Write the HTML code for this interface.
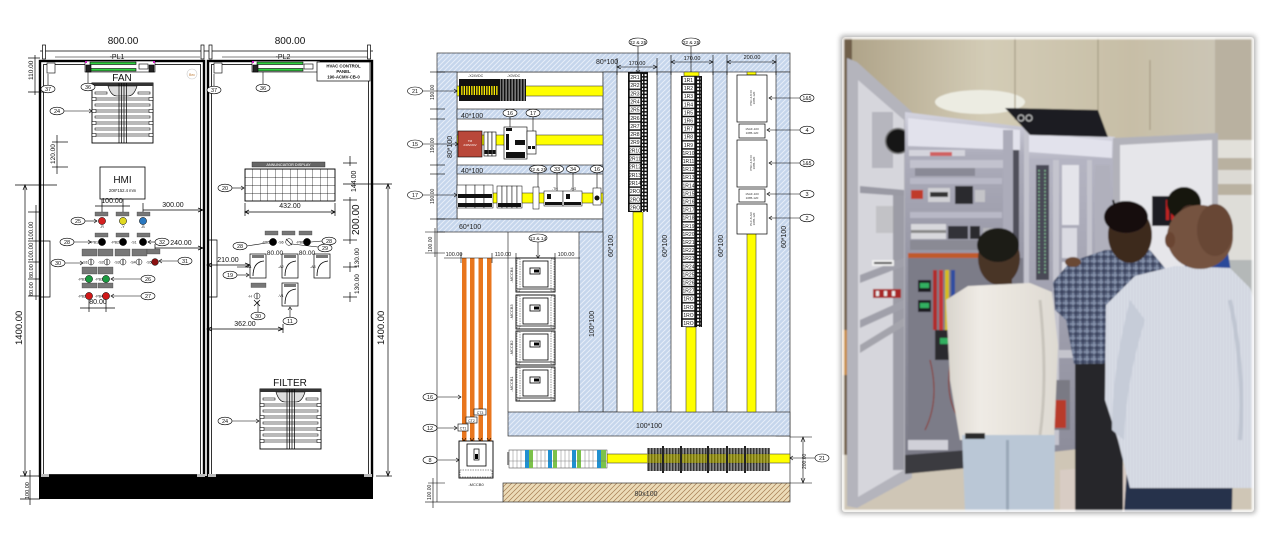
<!DOCTYPE html>
<html><head><meta charset="utf-8">
<style>
html,body{margin:0;padding:0;background:#fff;width:1285px;height:549px;overflow:hidden}
svg{display:block;font-family:"Liberation Sans",Arial,sans-serif}
</style></head><body>
<svg width="1285" height="549" viewBox="0 0 1285 549" xmlns="http://www.w3.org/2000/svg">
<defs>
<pattern id="tr" patternUnits="userSpaceOnUse" width="5" height="5"><rect width="5" height="5" fill="#c6d6ec"/><path d="M-1 1 L1 -1 M0 5 L5 0 M4 6 L6 4" stroke="#e6edf8" stroke-width="1"/></pattern>
<pattern id="pl" patternUnits="userSpaceOnUse" width="5" height="5"><rect width="5" height="5" fill="#ecdcb8"/><path d="M-1 1 L1 -1 M0 5 L5 0 M4 6 L6 4" stroke="#a67c52" stroke-width="0.7"/></pattern>
<pattern id="ann" patternUnits="userSpaceOnUse" x="245" y="169" width="7.5" height="8"><path d="M0 0 H7.5 M0 0 V8" stroke="#000" stroke-width="0.7" fill="none"/></pattern>
<pattern id="cell1" patternUnits="userSpaceOnUse" x="629" y="73" width="12" height="8.15"><rect x="0.4" y="0.4" width="11.2" height="7.35" fill="#fff" stroke="#000" stroke-width="0.6"/></pattern>
<pattern id="cell2" patternUnits="userSpaceOnUse" x="682" y="76" width="13" height="8.1"><rect x="0.4" y="0.4" width="12.2" height="7.3" fill="#fff" stroke="#000" stroke-width="0.6"/></pattern>
<pattern id="dots" patternUnits="userSpaceOnUse" width="3.5" height="3.5"><rect width="3.5" height="3.5" fill="#111"/><rect x="0.6" y="0.6" width="2" height="2" fill="#fff"/></pattern>
<pattern id="vst" patternUnits="userSpaceOnUse" width="3" height="3"><rect width="3" height="3" fill="#777"/><rect width="1.4" height="3" fill="#111"/></pattern>
<pattern id="yst" patternUnits="userSpaceOnUse" width="2.5" height="3"><rect width="2.5" height="3" fill="#ffef00"/><rect width="1.2" height="3" fill="#111"/></pattern>
<pattern id="chk" patternUnits="userSpaceOnUse" width="7" height="7"><rect width="7" height="7" fill="#56627e"/><path d="M0 2 H7 M2 0 V7" stroke="#8b97b0" stroke-width="1.3"/><path d="M0 5 H7 M5 0 V7" stroke="#2e3650" stroke-width="1"/></pattern>
<pattern id="stp" patternUnits="userSpaceOnUse" width="3" height="3"><rect width="3" height="3" fill="#d9dde6"/><path d="M1 0 V3" stroke="#c2c8d6" stroke-width="0.6"/></pattern>
<filter id="bl" x="-5%" y="-5%" width="110%" height="110%"><feGaussianBlur stdDeviation="0.7"/></filter>
<filter id="sh" x="-10%" y="-10%" width="120%" height="120%"><feGaussianBlur stdDeviation="2.5"/></filter>
<g id="grill">
<rect x="0" y="0" width="61" height="60" fill="#fff" stroke="#000" stroke-width="0.9"/>
<rect x="0" y="0" width="61" height="3" fill="#333"/>
<path d="M16 3 Q19 13 25 13 H36 Q42 13 45 3 Z" fill="#ddd" stroke="#000" stroke-width="0.6"/>
<g fill="#fff" stroke="#000" stroke-width="0.55">
<rect x="3" y="15" width="55" height="2"/><rect x="3" y="21" width="55" height="2"/><rect x="3" y="27" width="55" height="2"/><rect x="3" y="33" width="55" height="2"/><rect x="3" y="39" width="55" height="2"/><rect x="3" y="45" width="55" height="2"/><rect x="3" y="51" width="55" height="2"/><rect x="3" y="9" width="12" height="2"/><rect x="46" y="9" width="12" height="2"/>
<rect x="0" y="14.5" width="4" height="3"/><rect x="57" y="14.5" width="4" height="3"/><rect x="0" y="26.5" width="4" height="3"/><rect x="57" y="26.5" width="4" height="3"/><rect x="0" y="38.5" width="4" height="3"/><rect x="57" y="38.5" width="4" height="3"/><rect x="0" y="50.5" width="4" height="3"/><rect x="57" y="50.5" width="4" height="3"/>
</g>
<path d="M27 0 V60 M29.5 0 V60 M32 0 V60 M34.5 0 V60" stroke="#000" stroke-width="0.7"/>
</g>
</defs>

<!-- ================= LEFT DRAWING ================= -->
<g stroke="#000" fill="none" stroke-width="0.8">
<line x1="40" y1="51" x2="373" y2="51"/>
<line x1="55" y1="57" x2="200" y2="57" stroke-width="0.5"/>
<line x1="222" y1="57" x2="370" y2="57" stroke-width="0.5"/>
<g stroke-width="0.7" fill="#fff">
<rect x="42.5" y="45" width="3" height="14"/><rect x="201" y="45" width="3" height="14"/>
<rect x="209" y="45" width="3" height="14"/><rect x="367.5" y="45" width="3" height="14"/>
</g>
<rect x="40" y="61" width="164" height="415" stroke-width="2.4"/>
<rect x="43.5" y="64.5" width="157" height="410" stroke-width="0.8"/>
<rect x="208" y="61" width="164" height="415" stroke-width="2.4"/>
<rect x="211.5" y="64.5" width="157" height="410" stroke-width="0.8"/>
</g>
<rect x="39" y="476" width="334" height="23" fill="#000"/>
<rect x="41" y="474" width="8" height="3" fill="#bbb"/><rect x="197" y="474" width="8" height="3" fill="#bbb"/>
<rect x="208" y="474" width="8" height="3" fill="#bbb"/><rect x="364" y="474" width="8" height="3" fill="#bbb"/>

<g font-size="10" text-anchor="middle" fill="#111">
<text x="123" y="44">800.00</text><text x="290" y="44">800.00</text>
</g>
<g font-size="7" text-anchor="middle" fill="#111">
<text x="117" y="59">-PL1</text><text x="283" y="59">-PL2</text>
</g>

<g stroke="#000" stroke-width="0.6">
<rect x="85" y="61" width="70" height="11" fill="#fff"/>
<rect x="90" y="62" width="46" height="2.5" fill="#30d040"/><rect x="90" y="68.5" width="46" height="2.5" fill="#30d040"/>
<rect x="86" y="65" width="5" height="7" fill="#222"/><rect x="149" y="65" width="5" height="7" fill="#222"/>
<rect x="139" y="64" width="9" height="5" fill="#fff"/>
<rect x="252" y="61" width="68" height="11" fill="#fff"/>
<rect x="257" y="62" width="46" height="2.5" fill="#30d040"/><rect x="257" y="68.5" width="46" height="2.5" fill="#30d040"/>
<rect x="253" y="65" width="5" height="7" fill="#222"/>
<rect x="304" y="64" width="9" height="5" fill="#fff"/>
<rect x="47" y="63" width="8" height="10" fill="#fff"/><rect x="214" y="63" width="8" height="10" fill="#fff"/>
</g>
<rect x="85" y="61" width="2" height="2" fill="#d020c0"/><rect x="153" y="61" width="2" height="2" fill="#d020c0"/>
<rect x="252" y="61" width="2" height="2" fill="#d020c0"/>
<circle cx="192" cy="74" r="5" fill="#fff" stroke="#ccc" stroke-width="0.6"/>
<text x="192" y="76" font-size="3.5" text-anchor="middle" fill="#c08040">Bec</text>
<rect x="317" y="62" width="53" height="19" fill="#fff" stroke="#000" stroke-width="0.7"/>
<g font-size="4.3" font-weight="bold" text-anchor="middle" fill="#111">
<text x="343.5" y="67.5">HVAC CONTROL</text><text x="343.5" y="73">PANEL</text><text x="343.5" y="78.5">190-ACMV-CB-0</text>
</g>

<text x="122" y="81" font-size="10" text-anchor="middle" fill="#111">FAN</text>
<use href="#grill" x="92" y="83"/>
<text x="290" y="386" font-size="10" text-anchor="middle" fill="#111">FILTER</text>
<use href="#grill" x="260" y="389"/>

<g stroke="#000" stroke-width="0.7" fill="none">
<line x1="28" y1="58" x2="40" y2="58"/><line x1="28" y1="92" x2="46" y2="92"/><line x1="35" y1="55" x2="35" y2="95"/>
<line x1="52" y1="142" x2="68" y2="142"/><line x1="52" y1="167" x2="68" y2="167"/><line x1="57" y1="135" x2="57" y2="174"/>
<line x1="15" y1="185" x2="57" y2="185"/><line x1="25" y1="185" x2="25" y2="476"/>
<line x1="20" y1="476" x2="40" y2="476"/><line x1="20" y1="499" x2="40" y2="499"/><line x1="30" y1="470" x2="30" y2="505"/>
<line x1="36" y1="205" x2="36" y2="300"/>
<line x1="28" y1="212" x2="40" y2="212"/><line x1="28" y1="241" x2="40" y2="241"/><line x1="28" y1="262" x2="40" y2="262"/><line x1="28" y1="279" x2="40" y2="279"/><line x1="28" y1="296" x2="40" y2="296"/>
<path d="M40 241 H50 V297 H40"/>
<path d="M23 190 L25 185 L27 190 M23 471 L25 476 L27 471"/>
</g>
<g font-size="6.5" fill="#111">
<text transform="translate(33,80) rotate(-90)">110.00</text>
<text transform="translate(55,164) rotate(-90)">120.00</text>
<text transform="translate(33,240) rotate(-90)" font-size="6">100.00</text>
<text transform="translate(33,261) rotate(-90)" font-size="6">100.00</text>
<text transform="translate(33,278) rotate(-90)" font-size="5.5">80.00</text>
<text transform="translate(33,296) rotate(-90)" font-size="5.5">80.00</text>
<text transform="translate(29,499) rotate(-90)" font-size="5.5">100.00</text>
</g>
<text transform="translate(22,345) rotate(-90)" font-size="9.5" fill="#111">1400.00</text>

<rect x="100" y="167" width="45" height="32" fill="#fff" stroke="#000" stroke-width="0.8"/>
<text x="122.5" y="183" font-size="10" text-anchor="middle" fill="#111">HMI</text>
<text x="122.5" y="192" font-size="4.2" text-anchor="middle" fill="#111">208*152.4 mm</text>
<g stroke="#000" stroke-width="0.7" fill="none">
<line x1="102" y1="199" x2="102" y2="212"/><line x1="123" y1="199" x2="123" y2="212"/><line x1="95" y1="206" x2="130" y2="206"/>
<line x1="143" y1="203" x2="143" y2="213"/><line x1="143" y1="210" x2="203" y2="210"/>
<line x1="155" y1="244" x2="155" y2="252"/><line x1="155" y1="248" x2="203" y2="248"/>
<line x1="89" y1="300" x2="89" y2="312"/><line x1="106" y1="300" x2="106" y2="312"/><line x1="80" y1="308" x2="115" y2="308"/>
</g>
<g font-size="7" fill="#111" text-anchor="middle">
<text x="112" y="203">100.00</text><text x="173" y="207">300.00</text><text x="181" y="245">240.00</text><text x="98" y="304">80.00</text>
</g>
<g fill="#777" stroke="#333" stroke-width="0.3">
<rect x="95" y="212" width="13" height="4"/><rect x="116" y="212" width="13" height="4"/><rect x="137" y="212" width="13" height="4"/>
<rect x="95" y="233" width="13" height="4"/><rect x="116" y="233" width="13" height="4"/><rect x="137" y="233" width="13" height="4"/>
<rect x="82" y="249" width="15" height="7"/><rect x="98" y="249" width="15" height="7"/><rect x="115" y="249" width="15" height="7"/><rect x="132" y="249" width="15" height="7"/><rect x="147" y="249" width="13" height="5"/>
<rect x="82" y="267" width="15" height="7"/><rect x="98" y="267" width="15" height="7"/>
<rect x="82" y="283" width="15" height="5"/><rect x="98" y="283" width="15" height="5"/>
</g>
<g stroke="#000" stroke-width="0.5">
<circle cx="102" cy="221" r="3.6" fill="#d42020"/><circle cx="123" cy="221" r="3.6" fill="#e0d820"/><circle cx="143" cy="221" r="3.6" fill="#2a78c0"/>
<circle cx="102" cy="242" r="3.6" fill="#000"/><circle cx="123" cy="242" r="3.6" fill="#000"/><circle cx="143" cy="242" r="3.6" fill="#000"/>
<circle cx="91" cy="262" r="3" fill="#fff"/><circle cx="107" cy="262" r="3" fill="#fff"/><circle cx="123" cy="262" r="3" fill="#fff"/><circle cx="139" cy="262" r="3" fill="#fff"/><circle cx="155" cy="262" r="3.4" fill="#8a1010"/>
<circle cx="89" cy="279" r="3.6" fill="#1a9a40"/><circle cx="106" cy="279" r="3.6" fill="#1a9a40"/>
<circle cx="89" cy="296" r="3.6" fill="#d01818"/><circle cx="106" cy="296" r="3.6" fill="#d01818"/>
</g>
<path d="M91 259.5 V264.5 M107 259.5 V264.5 M123 259.5 V264.5 M139 259.5 V264.5" stroke="#000" stroke-width="0.8"/>
<g font-size="3.6" fill="#111">
<text x="100" y="228">-R</text><text x="121" y="228">-Y</text><text x="141" y="228">-B</text>
<text x="90" y="243.5">-PB1</text><text x="111" y="243.5">-PB2</text><text x="131" y="243.5">-S1</text>
<text x="82" y="263.5">-S1</text><text x="98" y="263.5">-S2</text><text x="114" y="263.5">-S3</text><text x="130" y="263.5">-S4</text><text x="146" y="263.5">-S5</text>
<text x="78" y="280.5">-PB1</text><text x="95" y="280.5">-PB3</text>
<text x="78" y="297.5">-PB2</text><text x="95" y="297.5">-PB4</text>
</g>

<rect x="252" y="162" width="73" height="5" fill="#666" stroke="#222" stroke-width="0.4"/>
<text x="288.5" y="166" font-size="3.8" text-anchor="middle" fill="#fff">ANNUNCIATOR DISPLAY</text>
<rect x="245" y="169" width="90" height="32" fill="url(#ann)" stroke="#000" stroke-width="0.9"/>
<g stroke="#000" stroke-width="0.7" fill="none">
<line x1="245" y1="203" x2="245" y2="216"/><line x1="335" y1="203" x2="335" y2="216"/><line x1="245" y1="212" x2="335" y2="212"/>
<path d="M249 210 L245 212 L249 214 M331 210 L335 212 L331 214"/>
<line x1="343" y1="163" x2="357" y2="163"/><line x1="343" y1="200" x2="357" y2="200"/><line x1="343" y1="240" x2="357" y2="240"/><line x1="343" y1="267" x2="357" y2="267"/><line x1="343" y1="297" x2="357" y2="297"/>
<line x1="350" y1="156" x2="350" y2="166"/><line x1="350" y1="197" x2="350" y2="244"/><line x1="350" y1="262" x2="350" y2="272"/><line x1="350" y1="292" x2="350" y2="302"/>
<line x1="343" y1="184" x2="392" y2="184"/><line x1="388" y1="184" x2="388" y2="476"/><line x1="376" y1="476" x2="392" y2="476"/>
<path d="M386 189 L388 184 L390 189 M386 471 L388 476 L390 471"/>
<path d="M207 240 H217 V297 H207"/>
<line x1="207" y1="265" x2="250" y2="265"/><line x1="207" y1="329" x2="283" y2="329"/><line x1="283" y1="324" x2="283" y2="333"/>
<path d="M212 263 L207 265 L212 267 M245 263 L250 265 L245 267 M212 327 L207 329 L212 331 M278 327 L283 329 L278 331 M198 208 L203 210 L198 212 M198 246 L203 248 L198 250"/>
</g>
<g font-size="7" fill="#111" text-anchor="middle">
<text x="290" y="208">432.00</text><text x="228" y="262">210.00</text><text x="245" y="326">362.00</text>
<text x="275" y="255" font-size="6.5">80.00</text><text x="307" y="255" font-size="6.5">80.00</text>
</g>
<g fill="#111">
<text transform="translate(356,192) rotate(-90)" font-size="7">144.00</text>
<text transform="translate(359,235) rotate(-90)" font-size="10">200.00</text>
<text transform="translate(359,268) rotate(-90)" font-size="6.5">130.00</text>
<text transform="translate(359,294) rotate(-90)" font-size="6.5">130.00</text>
<text transform="translate(384,345) rotate(-90)" font-size="9.5">1400.00</text>
</g>
<g fill="#777" stroke="#333" stroke-width="0.3">
<rect x="265" y="231" width="13" height="4"/><rect x="282" y="231" width="13" height="4"/><rect x="299" y="231" width="13" height="4"/>
<rect x="251" y="283" width="15" height="4.5"/>
</g>
<g stroke="#000" stroke-width="0.5">
<circle cx="273" cy="242" r="3.6" fill="#000"/><circle cx="289" cy="242" r="3.3" fill="#fff"/><circle cx="307" cy="242" r="3.6" fill="#000"/>
<circle cx="257" cy="296" r="3" fill="#fff"/>
</g>
<path d="M286 239 L292 245 M257 293.5 V298.5 M254 300 L260 306 M260 300 L254 306" stroke="#000" stroke-width="0.7"/>
<g stroke="#000" stroke-width="0.7" fill="#fff">
<rect x="250" y="254" width="16" height="24"/><rect x="282" y="254" width="16" height="24"/><rect x="314" y="254" width="16" height="24"/><rect x="282" y="283" width="16" height="23"/>
</g>
<g fill="#777"><rect x="252" y="255" width="12" height="3"/><rect x="284" y="255" width="12" height="3"/><rect x="316" y="255" width="12" height="3"/><rect x="284" y="284" width="12" height="3"/></g>
<path d="M253 276 Q253 262 264 261 M285 276 Q285 262 296 261 M317 276 Q317 262 328 261 M285 304 Q285 290 296 289" stroke="#000" stroke-width="0.8" fill="none"/>
<g font-size="3.6" fill="#111">
<text x="262" y="243.5">-PB5</text><text x="278" y="243.5">-S6</text><text x="296" y="243.5">-PB6</text>
<text x="246" y="268">-A1</text><text x="278" y="268">-A2</text><text x="310" y="268">-A3</text><text x="278" y="297">-V1</text><text x="248" y="297.5">-H</text>
</g>

<g stroke="#000" stroke-width="0.6" fill="none">
<line x1="48" y1="74" x2="48" y2="85"/><line x1="88" y1="72" x2="88" y2="84"/>
<line x1="214" y1="74" x2="214" y2="86"/><line x1="263" y1="72" x2="263" y2="84"/>
<line x1="64" y1="111" x2="92" y2="111"/><path d="M89 109 L92 111 L89 113"/>
<line x1="85" y1="221" x2="97" y2="221"/><path d="M94 219 L97 221 L94 223"/>
<line x1="74" y1="242" x2="91" y2="242"/><path d="M88 240 L91 242 L88 244"/>
<line x1="155" y1="242" x2="148" y2="242"/><path d="M151 240 L148 242 L151 244"/>
<line x1="65" y1="263" x2="83" y2="263"/><path d="M80 261 L83 263 L80 265"/>
<line x1="178" y1="261" x2="159" y2="261"/><path d="M162 259 L159 261 L162 263"/>
<line x1="141" y1="279" x2="111" y2="279"/><path d="M114 277 L111 279 L114 281"/>
<line x1="141" y1="296" x2="111" y2="296"/><path d="M114 294 L111 296 L114 298"/>
<line x1="232" y1="188" x2="244" y2="188"/><path d="M241 186 L244 188 L241 190"/>
<line x1="247" y1="246" x2="266" y2="243"/>
<line x1="322" y1="241" x2="311" y2="242"/><line x1="318" y1="247" x2="292" y2="244"/>
<line x1="237" y1="275" x2="249" y2="275"/><path d="M246 273 L249 275 L246 277"/>
<line x1="237" y1="267" x2="249" y2="267"/>
<line x1="258" y1="312" x2="258" y2="301"/>
<line x1="290" y1="317" x2="290" y2="307"/><path d="M288 310 L290 307 L292 310"/>
<line x1="232" y1="421" x2="259" y2="421"/><path d="M256 419 L259 421 L256 423"/>
</g>
<g fill="#fff" stroke="#000" stroke-width="0.6">
<ellipse cx="48" cy="89" rx="7" ry="3.8"/><ellipse cx="88" cy="87" rx="7" ry="3.8"/>
<ellipse cx="214" cy="90" rx="7" ry="3.8"/><ellipse cx="263" cy="88" rx="7" ry="3.8"/>
<ellipse cx="57" cy="111" rx="7" ry="3.8"/><ellipse cx="78" cy="221" rx="7" ry="3.8"/>
<ellipse cx="67" cy="242" rx="7" ry="3.8"/><ellipse cx="162" cy="242" rx="7" ry="3.8"/>
<ellipse cx="58" cy="263" rx="7" ry="3.8"/><ellipse cx="185" cy="261" rx="7" ry="3.8"/>
<ellipse cx="148" cy="279" rx="7" ry="3.8"/><ellipse cx="148" cy="296" rx="7" ry="3.8"/>
<ellipse cx="225" cy="188" rx="7" ry="3.8"/><ellipse cx="240" cy="246" rx="7" ry="3.8"/>
<ellipse cx="329" cy="241" rx="7" ry="3.8"/><ellipse cx="325" cy="248" rx="7" ry="3.8"/>
<ellipse cx="230" cy="275" rx="7" ry="3.8"/><ellipse cx="258" cy="316" rx="7" ry="3.8"/>
<ellipse cx="290" cy="321" rx="7" ry="3.8"/><ellipse cx="225" cy="421" rx="7" ry="3.8"/>
</g>
<g font-size="5.5" text-anchor="middle" fill="#111">
<text x="48" y="91">37</text><text x="88" y="89">36</text><text x="214" y="92">37</text><text x="263" y="90">36</text>
<text x="57" y="113">24</text><text x="78" y="223">25</text><text x="67" y="244">28</text><text x="162" y="244">32</text>
<text x="58" y="265">30</text><text x="185" y="263">31</text><text x="148" y="281">26</text><text x="148" y="298">27</text>
<text x="225" y="190">20</text><text x="240" y="248">28</text><text x="329" y="243">28</text><text x="325" y="250">29</text>
<text x="230" y="277">19</text><text x="258" y="318">30</text><text x="290" y="323">11</text><text x="225" y="423">24</text>
</g>

<!-- ================= MIDDLE DRAWING ================= -->
<rect x="457" y="72" width="146" height="147" fill="#fff" stroke="#333" stroke-width="0.7"/>
<g stroke="#333" stroke-width="0.7" fill="none">
<line x1="437" y1="232" x2="437" y2="502"/><line x1="437" y1="502" x2="503" y2="502"/>
<line x1="790" y1="436" x2="790" y2="483"/>
<line x1="508" y1="232" x2="508" y2="412"/>
</g>
<g fill="url(#tr)" stroke="#333" stroke-width="0.7">
<rect x="437" y="53" width="353" height="19"/>
<rect x="437" y="72" width="20" height="147"/>
<rect x="457" y="109" width="146" height="10"/>
<rect x="457" y="165" width="146" height="9"/>
<rect x="437" y="219" width="166" height="13"/>
<rect x="603" y="72" width="14" height="340"/>
<rect x="657" y="72" width="14" height="340"/>
<rect x="713" y="72" width="14" height="340"/>
<rect x="776" y="72" width="14" height="364"/>
<rect x="579" y="232" width="24" height="180"/>
<rect x="508" y="412" width="282" height="24"/>
</g>
<rect x="503" y="483" width="287" height="19" fill="url(#pl)" stroke="#333" stroke-width="0.7"/>
<text x="646" y="496" font-size="7" text-anchor="middle" fill="#333">80x100</text>
<g font-size="7" fill="#222">
<text x="461" y="118">40*100</text><text x="461" y="173">40*100</text><text x="459" y="229">60*100</text>
<text x="596" y="64">80*100</text>
<text x="649" y="428" text-anchor="middle">100*100</text>
<text transform="translate(452,158) rotate(-90)">80*100</text>
<text transform="translate(613,257) rotate(-90)">60*100</text>
<text transform="translate(667,257) rotate(-90)">60*100</text>
<text transform="translate(723,257) rotate(-90)">60*100</text>
<text transform="translate(786,248) rotate(-90)">60*100</text>
<text transform="translate(594,337) rotate(-90)">100*100</text>
</g>

<g fill="#ffff00" stroke="#444" stroke-width="0.6">
<rect x="457" y="86" width="146" height="10"/>
<rect x="457" y="135" width="146" height="10"/>
<rect x="457" y="193" width="146" height="10"/>
<rect x="633" y="212" width="10" height="200"/>
<rect x="686" y="327" width="10" height="85"/>
<rect x="747" y="232" width="9" height="180"/>
<rect x="607" y="454" width="183" height="9"/>
<rect x="684" y="72" width="15" height="4"/><rect x="747" y="72" width="9" height="3"/>
</g>
<rect x="459" y="79" width="41" height="22" fill="#111"/>
<rect x="461" y="86" width="37" height="9" fill="url(#yst)"/>
<rect x="500" y="79" width="26" height="22" fill="url(#vst)"/>
<g font-size="3.6" fill="#222"><text x="468" y="77">-X24VDC</text><text x="507" y="77">-X0VDC</text></g>
<rect x="458" y="131" width="24" height="26" fill="#b9483a" stroke="#000" stroke-width="0.6"/>
<text x="470" y="142" font-size="3" text-anchor="middle" fill="#fff">TM</text>
<text x="470" y="146" font-size="3" text-anchor="middle" fill="#fff">240V/24V</text>
<g fill="#fff" stroke="#000" stroke-width="0.6">
<rect x="484" y="132" width="4" height="24"/><rect x="488" y="132" width="4" height="24"/><rect x="492" y="132" width="4" height="24"/>
<rect x="504" y="127" width="23" height="32"/><rect x="527" y="131" width="9" height="23"/>
</g>
<g fill="#111">
<rect x="484.5" y="150" width="3" height="4"/><rect x="488.5" y="150" width="3" height="4"/><rect x="492.5" y="150" width="3" height="4"/>
<rect x="506" y="128" width="6" height="3"/><rect x="506" y="134" width="3" height="16"/><rect x="515" y="140" width="10" height="5"/><rect x="506" y="152" width="19" height="6"/>
<rect x="528" y="146" width="3" height="3"/><rect x="532" y="146" width="3" height="3"/>
</g>
<g fill="#fff" stroke="#000" stroke-width="0.5">
<rect x="457" y="185" width="9" height="23"/><rect x="466" y="185" width="9" height="23"/><rect x="475" y="185" width="9" height="23"/><rect x="484" y="185" width="9" height="23"/>
<rect x="497" y="186" width="5" height="22"/><rect x="502" y="186" width="5" height="22"/><rect x="507" y="186" width="5" height="22"/><rect x="512" y="186" width="5" height="22"/><rect x="517" y="186" width="5" height="22"/>
<rect x="533" y="187" width="6" height="22"/>
<rect x="544" y="191" width="19" height="15"/><rect x="563" y="191" width="19" height="15"/>
<rect x="593" y="188" width="8" height="17"/>
</g>
<g fill="#111">
<rect x="458" y="194" width="34" height="4"/><rect x="458" y="203" width="34" height="4"/>
<rect x="498" y="203" width="23" height="4"/>
<rect x="545" y="202" width="17" height="3"/><rect x="564" y="202" width="17" height="3"/>
<rect x="547" y="194" width="4" height="5"/><rect x="566" y="194" width="4" height="5"/>
<circle cx="597" cy="198" r="2.5"/>
</g>
<g font-size="3.4" fill="#222"><text x="552" y="190">-TH</text><text x="570" y="190">-HG</text></g>
<g stroke="#000" stroke-width="0.6" fill="none">
<line x1="422" y1="91" x2="457" y2="91"/><path d="M454 89 L457 91 L454 93"/>
<line x1="422" y1="144" x2="458" y2="144"/><path d="M455 142 L458 144 L455 146"/>
<line x1="422" y1="195" x2="457" y2="195"/><path d="M454 193 L457 195 L454 197"/>
<line x1="510" y1="117" x2="510" y2="127"/><line x1="533" y1="117" x2="533" y2="131"/>
<line x1="538" y1="173" x2="538" y2="187"/><line x1="557" y1="173" x2="557" y2="191"/>
<line x1="573" y1="173" x2="573" y2="191"/><line x1="597" y1="173" x2="597" y2="188"/>
<line x1="430" y1="72" x2="445" y2="72"/><line x1="430" y1="109" x2="445" y2="109"/><line x1="430" y1="119" x2="445" y2="119"/><line x1="430" y1="165" x2="445" y2="165"/><line x1="430" y1="174" x2="445" y2="174"/><line x1="430" y1="219" x2="445" y2="219"/>
<line x1="425" y1="232" x2="445" y2="232"/><line x1="425" y1="253" x2="445" y2="253"/><line x1="435" y1="228" x2="435" y2="257"/>
<line x1="428" y1="483" x2="445" y2="483"/><line x1="425" y1="502" x2="437" y2="502"/><line x1="433" y1="478" x2="433" y2="508"/>
<line x1="790" y1="437" x2="812" y2="437"/><line x1="790" y1="483" x2="812" y2="483"/><line x1="803" y1="437" x2="803" y2="483"/>
<path d="M801 442 L803 437 L805 442 M801 478 L803 483 L805 478"/>
<line x1="790" y1="458" x2="815" y2="458"/><path d="M793 456 L790 458 L793 460"/>
</g>
<g fill="#fff" stroke="#000" stroke-width="0.6">
<ellipse cx="415" cy="91" rx="7.5" ry="4"/><ellipse cx="415" cy="144" rx="7.5" ry="4"/><ellipse cx="415" cy="195" rx="7.5" ry="4"/>
<ellipse cx="510" cy="113" rx="7" ry="3.8"/><ellipse cx="533" cy="113" rx="7" ry="3.8"/>
<ellipse cx="538" cy="169" rx="8.5" ry="3.8"/><ellipse cx="557" cy="169" rx="6.5" ry="3.8"/><ellipse cx="573" cy="169" rx="6.5" ry="3.8"/><ellipse cx="597" cy="169" rx="6.5" ry="3.8"/>
<ellipse cx="822" cy="458" rx="7" ry="4"/>
</g>
<g font-size="5.5" text-anchor="middle" fill="#111">
<text x="415" y="93">21</text><text x="415" y="146">15</text><text x="415" y="197">17</text>
<text x="510" y="115">16</text><text x="533" y="115">17</text>
<text x="538" y="171" font-size="4.8">22 &amp; 25</text><text x="557" y="171">33</text><text x="573" y="171">34</text><text x="597" y="171">16</text>
<text x="822" y="460">21</text>
</g>
<g font-size="5" fill="#222">
<text transform="translate(434,100) rotate(-90)">190.00</text>
<text transform="translate(434,153) rotate(-90)">190.00</text>
<text transform="translate(434,204) rotate(-90)">190.00</text>
<text transform="translate(432,252) rotate(-90)">100.00</text>
<text transform="translate(431,500) rotate(-90)">100.00</text>
<text transform="translate(806,469) rotate(-90)">200.00</text>
</g>

<rect x="628" y="72" width="20" height="140" fill="#111"/>
<rect x="629" y="73" width="12" height="139" fill="url(#cell1)"/>
<rect x="642" y="73" width="5" height="139" fill="url(#dots)"/>
<g font-size="5" text-anchor="middle" fill="#111">
<text x="635" y="79">2R1</text><text x="635" y="87.2">2R2</text><text x="635" y="95.3">2R3</text><text x="635" y="103.5">2R4</text><text x="635" y="111.6">2R5</text><text x="635" y="119.8">2R6</text><text x="635" y="127.9">2R7</text><text x="635" y="136.1">2R8</text><text x="635" y="144.2">2R9</text><text x="635" y="152.4">2R10</text><text x="635" y="160.5">2R11</text><text x="635" y="168.7">2R12</text><text x="635" y="176.8">2R13</text><text x="635" y="185">2R14</text><text x="635" y="193.1">2RO</text><text x="635" y="201.3">2RO</text><text x="635" y="209.4">2RO</text>
</g>
<rect x="681" y="76" width="21" height="251" fill="#111"/>
<rect x="682" y="76" width="13" height="251" fill="url(#cell2)"/>
<rect x="696" y="76" width="5" height="251" fill="url(#dots)"/>
<g font-size="5" text-anchor="middle" fill="#111">
<text x="688.5" y="82">1R1</text><text x="688.5" y="90.1">1R2</text><text x="688.5" y="98.2">1R3</text><text x="688.5" y="106.3">1R4</text><text x="688.5" y="114.4">1R5</text><text x="688.5" y="122.5">1R6</text><text x="688.5" y="130.6">1R7</text><text x="688.5" y="138.7">1R8</text><text x="688.5" y="146.8">1R9</text><text x="688.5" y="154.9">1R10</text><text x="688.5" y="163">1R11</text><text x="688.5" y="171.1">1R12</text><text x="688.5" y="179.2">1R13</text><text x="688.5" y="187.3">1R14</text><text x="688.5" y="195.4">1R15</text><text x="688.5" y="203.5">1R16</text><text x="688.5" y="211.6">1R17</text><text x="688.5" y="219.7">1R18</text><text x="688.5" y="227.8">1R19</text><text x="688.5" y="235.9">1R20</text><text x="688.5" y="244">1R21</text><text x="688.5" y="252.1">1R22</text><text x="688.5" y="260.2">1R23</text><text x="688.5" y="268.3">1R24</text><text x="688.5" y="276.4">1R25</text><text x="688.5" y="284.5">1R26</text><text x="688.5" y="292.6">1R27</text><text x="688.5" y="300.7">1RO</text><text x="688.5" y="308.8">1RO</text><text x="688.5" y="316.9">1RO</text><text x="688.5" y="325">1RO</text>
</g>
<g fill="#fff" stroke="#000" stroke-width="0.7">
<rect x="737" y="75" width="30" height="47"/><rect x="739" y="124" width="26" height="14"/>
<rect x="737" y="140" width="30" height="47"/><rect x="739" y="189" width="26" height="13"/>
<rect x="737" y="204" width="30" height="30"/>
</g>
<g font-size="3" fill="#333" text-anchor="middle">
<text transform="translate(752,98) rotate(-90)">PSC-4-8 DI</text>
<text transform="translate(755,98) rotate(-90)">1085-120</text>
<text x="752" y="130">1SAF-100</text><text x="752" y="134">1085-120</text>
<text transform="translate(752,163) rotate(-90)">PSC-4-8 DI</text>
<text transform="translate(755,163) rotate(-90)">1085-120</text>
<text x="752" y="195">1SAF-100</text><text x="752" y="199">1085-120</text>
<text transform="translate(752,219) rotate(-90)">PLC-8-AO</text>
<text transform="translate(755,219) rotate(-90)">1085-120</text>
</g>
<g stroke="#000" stroke-width="0.6" fill="none">
<line x1="769" y1="98" x2="800" y2="98"/><path d="M772 96 L769 98 L772 100"/>
<line x1="767" y1="130" x2="800" y2="130"/><path d="M770 128 L767 130 L770 132"/>
<line x1="769" y1="163" x2="800" y2="163"/><path d="M772 161 L769 163 L772 165"/>
<line x1="767" y1="194" x2="800" y2="194"/><path d="M770 192 L767 194 L770 196"/>
<line x1="769" y1="218" x2="800" y2="218"/><path d="M772 216 L769 218 L772 220"/>
<line x1="638" y1="46" x2="638" y2="73"/><path d="M636 70 L638 73 L640 70"/>
<line x1="691" y1="46" x2="691" y2="72"/>
<line x1="617" y1="67" x2="657" y2="67"/><line x1="671" y1="62" x2="713" y2="62"/><line x1="727" y1="62" x2="776" y2="62"/>
<line x1="617" y1="58" x2="617" y2="75"/><line x1="657" y1="58" x2="657" y2="75"/><line x1="671" y1="55" x2="671" y2="75"/><line x1="713" y1="55" x2="713" y2="75"/><line x1="727" y1="55" x2="727" y2="75"/><line x1="776" y1="55" x2="776" y2="75"/>
<path d="M621 65 L617 67 L621 69 M653 65 L657 67 L653 69 M675 60 L671 62 L675 64 M709 60 L713 62 L709 64 M731 60 L727 62 L731 64 M772 60 L776 62 L772 64"/>
</g>
<g fill="#fff" stroke="#000" stroke-width="0.6">
<ellipse cx="807" cy="98" rx="7" ry="3.8"/><ellipse cx="807" cy="130" rx="7" ry="3.8"/><ellipse cx="807" cy="163" rx="7" ry="3.8"/><ellipse cx="807" cy="194" rx="7" ry="3.8"/><ellipse cx="807" cy="218" rx="7" ry="3.8"/>
<ellipse cx="638" cy="42" rx="9" ry="4"/><ellipse cx="691" cy="42" rx="9" ry="4"/>
</g>
<g font-size="5.5" text-anchor="middle" fill="#111">
<text x="807" y="100" font-size="5">1&amp;5</text><text x="807" y="132">4</text><text x="807" y="165" font-size="5">1&amp;5</text><text x="807" y="196">3</text><text x="807" y="220">2</text>
<text x="638" y="44" font-size="4.8">22 &amp; 25</text><text x="691" y="44" font-size="4.8">22 &amp; 25</text>
<text x="637" y="65" font-size="5.5">170.00</text><text x="692" y="60" font-size="5.5">170.00</text><text x="752" y="59" font-size="5.5">200.00</text>
</g>

<g fill="#e8761e"><rect x="462" y="258" width="4.5" height="183"/><rect x="470" y="258" width="4.5" height="183"/><rect x="478.5" y="258" width="4.5" height="183"/><rect x="487" y="258" width="4.5" height="183"/></g>
<g stroke="#000" stroke-width="0.6" fill="none">
<line x1="444" y1="258" x2="580" y2="258"/>
<line x1="461" y1="253" x2="461" y2="263"/><line x1="492" y1="253" x2="492" y2="263"/><line x1="516" y1="253" x2="516" y2="263"/><line x1="555" y1="253" x2="555" y2="263"/>
<line x1="538" y1="242" x2="538" y2="258"/><path d="M536 255 L538 258 L540 255"/>
<line x1="437" y1="397" x2="461" y2="397"/><path d="M458 395 L461 397 L458 399"/>
<line x1="437" y1="428" x2="457" y2="428"/><path d="M454 426 L457 428 L454 430"/>
<line x1="437" y1="460" x2="459" y2="460"/><path d="M456 458 L459 460 L456 462"/>
<path d="M462 438 L464 441 L466 438 M470 438 L472 441 L474 438 M478 438 L480 441 L482 438 M487 438 L489 441 L491 438"/>
</g>
<g font-size="5.5" fill="#222" text-anchor="middle"><text x="454" y="256">100.00</text><text x="503" y="256">110.00</text><text x="566" y="256">100.00</text></g>
<g fill="#fff" stroke="#000" stroke-width="0.6">
<ellipse cx="538" cy="238" rx="9" ry="4"/><ellipse cx="430" cy="397" rx="7" ry="3.8"/><ellipse cx="430" cy="428" rx="7" ry="3.8"/><ellipse cx="430" cy="460" rx="7" ry="3.8"/>
<rect x="458" y="424" width="10" height="7"/><rect x="466" y="417" width="11" height="6"/><rect x="474" y="409" width="12" height="6"/>
</g>
<g font-size="5.5" text-anchor="middle" fill="#111">
<text x="538" y="240" font-size="4.8">13 &amp; 14</text><text x="430" y="399">16</text><text x="430" y="430">12</text><text x="430" y="462">8</text>
<text x="463" y="429.5" font-size="3.5">CT1</text><text x="471.5" y="422" font-size="3.5">CT2</text><text x="480" y="414" font-size="3.5">CT3</text>
</g>
<g id="mccb">
<rect x="516" y="258" width="39" height="34" fill="#fff" stroke="#000" stroke-width="0.9"/>
<rect x="517" y="259" width="3" height="32" fill="#fff" stroke="#000" stroke-width="0.4" stroke-dasharray="1.5 1"/>
<rect x="551" y="259" width="3" height="32" fill="#fff" stroke="#000" stroke-width="0.4" stroke-dasharray="1.5 1"/>
<rect x="523" y="261" width="25" height="26" fill="#fff" stroke="#000" stroke-width="0.8"/>
<rect x="530" y="268" width="10" height="6" fill="#fff" stroke="#000" stroke-width="0.8"/>
<rect x="534" y="269.5" width="5" height="3" fill="#000"/>
<line x1="517" y1="289" x2="554" y2="289" stroke="#000" stroke-width="0.8"/>
</g>
<use href="#mccb" y="37"/><use href="#mccb" y="73"/><use href="#mccb" y="109"/>
<g font-size="4" fill="#222" text-anchor="middle">
<text transform="translate(513,275) rotate(-90)">-MCCB4</text>
<text transform="translate(513,312) rotate(-90)">-MCCB3</text>
<text transform="translate(513,348) rotate(-90)">-MCCB2</text>
<text transform="translate(513,384) rotate(-90)">-MCCB1</text>
</g>
<rect x="459" y="441" width="34" height="37" fill="#fff" stroke="#000" stroke-width="0.9"/>
<rect x="467" y="444" width="19" height="22" fill="#fff" stroke="#000" stroke-width="0.8"/>
<rect x="474" y="449" width="5" height="11" fill="#fff" stroke="#000" stroke-width="0.7"/>
<rect x="475" y="454" width="3" height="5" fill="#000"/>
<rect x="460" y="470" width="32" height="7" fill="#fff" stroke="#000" stroke-width="0.4" stroke-dasharray="1.5 1"/>
<text x="476" y="486" font-size="4" text-anchor="middle" fill="#222">-MCCB0</text>

<rect x="507" y="452" width="3" height="13" fill="#999"/>
<rect x="509" y="450" width="98" height="18" fill="#fff" stroke="#333" stroke-width="0.5"/>
<g fill="#2090d0"><rect x="525" y="450" width="4" height="18"/><rect x="548" y="450" width="4" height="18"/><rect x="572" y="450" width="4" height="18"/><rect x="597" y="450" width="4" height="18"/></g>
<g fill="#7cc24a"><rect x="529" y="450" width="4" height="18"/><rect x="553" y="450" width="4" height="18"/><rect x="577" y="450" width="4" height="18"/><rect x="601" y="450" width="5" height="18"/></g>
<path d="M513 450 V468 M517 450 V468 M521 450 V468 M537 450 V468 M541 450 V468 M545 450 V468 M561 450 V468 M565 450 V468 M569 450 V468 M585 450 V468 M589 450 V468 M593 450 V468" stroke="#666" stroke-width="0.4"/>
<line x1="509" y1="461" x2="607" y2="461" stroke="#666" stroke-width="0.4"/>
<rect x="647" y="448" width="123" height="23" fill="url(#vst)" opacity="0.85"/>
<rect x="647" y="454" width="123" height="9" fill="#c8c000" opacity="0.45"/>
<g fill="#222"><rect x="662" y="446" width="2" height="27"/><rect x="680" y="446" width="2" height="27"/><rect x="707" y="446" width="2" height="27"/><rect x="726" y="446" width="2" height="27"/><rect x="744" y="446" width="2" height="27"/></g>

<!-- ================= PHOTO ================= -->
<rect x="840" y="35" width="416" height="479" rx="4" fill="#888" filter="url(#sh)" opacity="0.6"/>
<clipPath id="pc"><rect x="842" y="37" width="412" height="475" rx="3"/></clipPath>
<linearGradient id="wall" x1="0" x2="1" y1="0" y2="0"><stop offset="0" stop-color="#ada186"/><stop offset="0.35" stop-color="#d3ccb6"/><stop offset="0.7" stop-color="#c7bea6"/><stop offset="1" stop-color="#cdc8bc"/></linearGradient>
<linearGradient id="cabL" x1="0" x2="0" y1="0" y2="1"><stop offset="0" stop-color="#d4d4e0"/><stop offset="0.12" stop-color="#acacba"/><stop offset="0.45" stop-color="#9494a2"/><stop offset="1" stop-color="#7a7a86"/></linearGradient>
<linearGradient id="cabM" x1="0" x2="0" y1="0" y2="1"><stop offset="0" stop-color="#e2e2ec"/><stop offset="0.1" stop-color="#b4b4c2"/><stop offset="1" stop-color="#8c8c9a"/></linearGradient>
<linearGradient id="shirt" x1="0" x2="1" y1="0" y2="0"><stop offset="0" stop-color="#d8d4cc"/><stop offset="0.3" stop-color="#efebe5"/><stop offset="1" stop-color="#dedad2"/></linearGradient>
<g clip-path="url(#pc)"><g filter="url(#bl)">
<rect x="842" y="37" width="412" height="475" fill="url(#wall)"/>
<ellipse cx="980" cy="102" rx="45" ry="12" fill="#ecece2"/>
<path d="M1015 37 V120 M1098 37 V110 M1150 60 V130" stroke="#a89e86" stroke-width="1.2"/>
<rect x="1215" y="37" width="39" height="260" fill="#b9b1a0"/>
<rect x="1218" y="140" width="36" height="18" fill="#e2e0da"/><rect x="1218" y="170" width="36" height="14" fill="#dcdad4"/><rect x="1218" y="195" width="36" height="95" fill="#deddd8"/>
<rect x="1228" y="260" width="26" height="170" fill="#b4b8b8"/>
<rect x="842" y="37" width="10" height="475" fill="#6f5f48"/>
<rect x="842" y="330" width="10" height="45" fill="#c48a48"/>
<polygon points="842,455 1254,440 1254,512 842,512" fill="#cfc6b6"/>
<polygon points="1060,470 1130,465 1130,512 1060,512" fill="#d8ccc4"/>
<polygon points="847,58 857,62 912,112 912,478 857,508 847,506" fill="#b4b4bc"/>
<polygon points="858,80 904,120 904,470 858,497" fill="#d6d6dc"/>
<rect x="872" y="112" width="21" height="56" fill="#b6b6be"/>
<circle cx="898" cy="141" r="12.5" fill="#151517"/>
<circle cx="898" cy="141" r="12.5" fill="none" stroke="#777" stroke-width="1.5"/>
<rect x="893" y="190" width="11" height="280" fill="#9c9ca6"/>
<polygon points="860,186 904,190 904,196 860,193" fill="#9a9aa4"/>
<rect x="876" y="206" width="17" height="27" fill="#c2c2c6"/>
<polygon points="860,275 904,258 904,266 860,283" fill="#a0a0aa"/>
<rect x="872" y="260" width="22" height="6" fill="#f0f0f0"/><rect x="874" y="262" width="18" height="2" fill="#333"/>
<polygon points="860,320 904,300 904,308 860,328" fill="#a0a0aa"/>
<rect x="873" y="289" width="28" height="9" fill="#a82626"/><rect x="876" y="291" width="3" height="5" fill="#eee"/><rect x="884" y="291" width="3" height="5" fill="#eee"/><rect x="892" y="291" width="3" height="5" fill="#eee"/>
<polygon points="860,345 904,318 904,326 860,353" fill="#a4a4ac"/>
<polygon points="905,112 1025,127 1025,462 905,470" fill="url(#cabL)"/>
<polygon points="908,118 1020,130 1020,150 908,146" fill="#e2e2ec"/>
<rect x="910" y="160" width="94" height="8" fill="#c2c2ce"/>
<rect x="909" y="150" width="56" height="6" fill="#d4d4dc"/><rect x="930" y="152" width="22" height="4" fill="#d06060"/>
<rect x="910" y="178" width="92" height="6" fill="#b8b8c6"/>
<rect x="910" y="212" width="92" height="6" fill="#b8b8c6"/>
<rect x="1003" y="130" width="10" height="130" fill="#acacba"/>
<rect x="1013" y="150" width="6" height="110" fill="#50505a"/>
<rect x="911" y="190" width="12" height="9" fill="#c03a2a"/>
<rect x="928" y="188" width="22" height="14" fill="#d0d0d4"/><rect x="930" y="192" width="18" height="5" fill="#333"/>
<rect x="955" y="186" width="18" height="18" fill="#29292e"/>
<rect x="975" y="190" width="10" height="12" fill="#c4c4c8"/>
<rect x="915" y="168" width="60" height="8" fill="#8a8a96"/>
<rect x="911" y="224" width="35" height="15" fill="#d8d8dc"/><rect x="911" y="230" width="35" height="3" fill="#888"/>
<rect x="948" y="226" width="20" height="13" fill="#333338"/><rect x="970" y="226" width="10" height="13" fill="#2a2a2e"/><rect x="983" y="228" width="10" height="11" fill="#b4b4b8"/>
<rect x="910" y="240" width="85" height="10" fill="#8a8a94"/>
<rect x="908" y="253" width="85" height="5" fill="#c05a2c"/>
<rect x="908" y="258" width="115" height="200" fill="#7c7c88"/>
<rect x="933" y="270" width="4" height="60" fill="#b02c2c"/><rect x="939" y="270" width="4" height="60" fill="#c83030"/><rect x="945" y="270" width="4" height="60" fill="#d4bc22"/><rect x="951" y="270" width="4" height="55" fill="#2e4ea0"/>
<rect x="918" y="280" width="13" height="12" fill="#1e1e22"/><rect x="920" y="283" width="9" height="5" fill="#30b060"/>
<rect x="918" y="300" width="13" height="12" fill="#1e1e22"/><rect x="920" y="303" width="9" height="5" fill="#30b060"/>
<rect x="935" y="330" width="22" height="30" fill="#2a2a2e"/><rect x="940" y="338" width="10" height="6" fill="#30b060"/>
<path d="M930 360 Q940 400 925 430 M950 365 Q945 400 960 420" stroke="#8a3020" stroke-width="1" fill="none"/>
<rect x="908" y="440" width="40" height="10" fill="#d0d0d8"/>
<polygon points="905,455 1030,445 1030,462 905,474" fill="#3a3a40"/>
<polygon points="1025,127 1115,137 1115,445 1025,455" fill="url(#cabM)"/>
<rect x="1024" y="127" width="5" height="330" fill="#c4c4ce"/>
<polygon points="1029,133 1112,141 1112,158 1029,152" fill="#e2e2ec"/>
<rect x="1053" y="160" width="6" height="285" fill="#c4c4ce"/>
<rect x="1087" y="160" width="5" height="200" fill="#c4c4ce"/>
<rect x="1036" y="165" width="13" height="115" fill="#4a4a56"/>
<path d="M1039 170 V275 M1045 170 V275" stroke="#8fd0a0" stroke-width="1.2" stroke-dasharray="1.5 2"/>
<rect x="1062" y="165" width="17" height="60" fill="#e4e4ea"/><rect x="1062" y="228" width="15" height="30" fill="#dadae2"/>
<rect x="1062" y="262" width="14" height="22" fill="#e0e0e6"/>
<rect x="1095" y="165" width="15" height="100" fill="#b0b0bc"/>
<rect x="1028" y="350" width="80" height="8" fill="#c4c4cc"/>
<rect x="1040" y="380" width="30" height="50" fill="#7a7a84"/><rect x="1048" y="400" width="18" height="28" fill="#b83a2a"/>
<polygon points="1005,108 1098,110 1108,137 1030,135" fill="#1c1f24"/>
<circle cx="1021" cy="118" r="3" fill="none" stroke="#ccc" stroke-width="1"/><circle cx="1029" cy="118" r="3" fill="none" stroke="#ccc" stroke-width="1"/>
<polygon points="1113,138 1218,133 1218,310 1113,302" fill="#b2b2ba"/>
<polygon points="1120,145 1212,140 1212,302 1120,296" fill="#e6e6ea"/>
<rect x="1152" y="196" width="26" height="30" fill="#1e1e22"/>
<rect x="1166" y="200" width="3" height="20" fill="#c02020"/><rect x="1171" y="200" width="3" height="20" fill="#c02020"/>
<path d="M1113 200 Q1120 230 1140 232" stroke="#111" stroke-width="2" fill="none"/>
<polygon points="1185,255 1228,252 1234,292 1185,294" fill="#2a4a9a"/>
<ellipse cx="1184" cy="203" rx="17" ry="16" fill="#181310"/>
<ellipse cx="1190" cy="215" rx="10" ry="10" fill="#4a3226"/>
<rect x="1075" y="355" width="48" height="157" fill="#26272c"/>
<polygon points="1053,282 1070,262 1105,250 1150,250 1165,268 1168,362 1074,364 1066,320 1055,310" fill="url(#chk)"/>
<ellipse cx="1130" cy="235" rx="22" ry="28" fill="#3e2a1e"/>
<ellipse cx="1126" cy="217" rx="22" ry="16" fill="#141110"/>
<ellipse cx="1073" cy="262" rx="8" ry="5" fill="#6a4a36"/>
<rect x="998" y="270" width="14" height="20" fill="#4a3428"/>
<ellipse cx="999" cy="258" rx="21" ry="27" fill="#4a3428"/>
<ellipse cx="998" cy="245" rx="21" ry="17" fill="#1e1a18"/>
<polygon points="946,300 968,286 1030,283 1052,292 1058,345 1054,440 960,440 950,380" fill="url(#shirt)"/>
<path d="M1040 300 Q1048 380 1040 435" stroke="#c8c4bc" stroke-width="3" fill="none"/>
<polygon points="962,435 1055,435 1054,512 965,512" fill="#bac7d6"/>
<rect x="1006" y="440" width="3" height="72" fill="#9aa8b8"/>
<rect x="965" y="433" width="20" height="6" fill="#2a2a2a"/>
<polygon points="1128,452 1233,452 1232,512 1124,512" fill="#27324c"/>
<polygon points="1106,305 1135,276 1175,266 1230,268 1250,288 1255,300 1255,488 1130,488 1118,440 1105,400" fill="url(#stp)"/>
<path d="M1130 300 Q1112 370 1112 430 L1124 440 Q1126 380 1145 320 Z" fill="#c6ccd8"/>
<path d="M1230 300 Q1245 370 1240 440" stroke="#c0c6d2" stroke-width="4" fill="none"/>
<ellipse cx="1200" cy="237" rx="33" ry="32" fill="#75533f"/>
<ellipse cx="1215" cy="230" rx="18" ry="26" fill="#684634"/>
<ellipse cx="1170" cy="240" rx="5" ry="8" fill="#6a4432"/>
</g>
<rect x="842" y="37" width="412" height="475" rx="3" fill="none" stroke="#fff" stroke-width="5" filter="url(#bl)" opacity="0.8"/>
</g>
</svg>
</body></html>
